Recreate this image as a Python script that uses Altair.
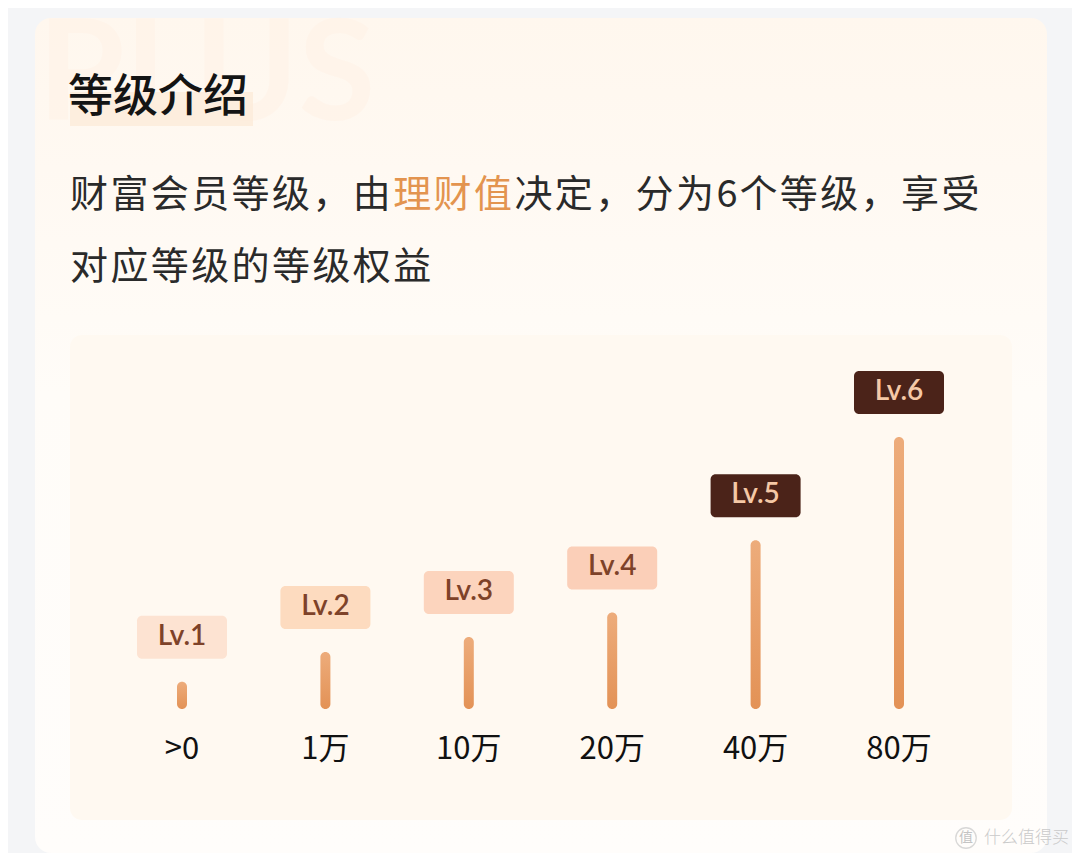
import altair as alt
import pandas as pd

# ---------------- data ----------------
levels = ["Lv.1", "Lv.2", "Lv.3", "Lv.4", "Lv.5", "Lv.6"]
thresholds = [">0", "1万", "10万", "20万", "40万", "80万"]
bar_lengths = [10, 21, 26.5, 35.5, 62, 100]          # relative bar length (Lv.6 = 100)
badge_fills = ["#FDE3D2", "#FDDBBF", "#FCD4BD", "#FBCFB8", "#4B2319", "#4B2319"]
badge_text_colors = ["#7E4229", "#7E4229", "#7E4229", "#7E4229", "#F5C8A6", "#F5C8A6"]

title_text = "等级介绍"
sub_line1 = "财富会员等级，由理财值决定，分为6个等级，享受"
sub_line2 = "对应等级的等级权益"
highlight = "理财值"

df = pd.DataFrame({
    "idx": list(range(len(levels))),
    "level": levels,
    "threshold": thresholds,
    "value": bar_lengths,
})

W, H = 1064, 845
M = 8  # page margin


def p(v):
    """page pixel -> chart pixel"""
    return v - M


FONT_CJK = "Noto Sans CJK SC"

xs = alt.Scale(domain=[0, 5], range=[p(182), p(899)], nice=False, zero=False, padding=0)
ys = alt.Scale(domain=[0, 100], range=[p(709), p(437)], nice=False, zero=True, padding=0)

one = pd.DataFrame({"a": [0]})
base1 = alt.Chart(one)

# ---------------- decorations ----------------
card = base1.mark_rect(
    cornerRadius=16,
    fill=alt.Gradient(
        gradient="linear",
        stops=[alt.GradientStop(color="#FFF7EE", offset=0),
               alt.GradientStop(color="#FFFCF8", offset=0.45),
               alt.GradientStop(color="#FFFDFB", offset=1)],
        x1=0, x2=0, y1=0, y2=1,
    ),
).encode(x=alt.value(p(35)), x2=alt.value(p(1047)), y=alt.value(p(18)), y2=alt.value(p(853)))

watermark_big = base1.mark_text(
    text="PLUS", font="Lato", fontSize=140, fontWeight="bold", align="left",
    baseline="alphabetic", color="#FFF2E6", opacity=0.55,
).encode(x=alt.value(p(38)), y=alt.value(p(120)))

title_hl = base1.mark_rect(color="#FDECDC", opacity=0.9).encode(
    x=alt.value(p(70)), x2=alt.value(p(253)), y=alt.value(p(92)), y2=alt.value(p(126)))

panel = base1.mark_rect(cornerRadius=12, color="#FFF9F1").encode(
    x=alt.value(p(70)), x2=alt.value(p(1012)), y=alt.value(p(335)), y2=alt.value(p(820)))

title = base1.mark_text(
    text=title_text, font=FONT_CJK, fontSize=45, fontWeight=500, align="left",
    baseline="middle", color="#141414",
).encode(x=alt.value(p(68)), y=alt.value(p(98)))

# subtitle, laid out character by character (the original uses letter spacing)
sub_layers = []
hl_start = sub_line1.index(highlight)
hl_end = hl_start + len(highlight)
for line, ypos in [(sub_line1, 196), (sub_line2, 268)]:
    cx = 70.0
    for i, ch in enumerate(line):
        col = "#E3944F" if (line is sub_line1 and hl_start <= i < hl_end) else "#2A2A2A"
        sub_layers.append(
            base1.mark_text(
                text=ch, font=FONT_CJK, fontSize=38, align="left", baseline="middle", color=col,
            ).encode(x=alt.value(p(cx)), y=alt.value(p(ypos)))
        )
        cx += 23.0 if ch.isdigit() else 40.4

# bottom-right watermark
wm_circle = base1.mark_point(shape="circle", size=420, filled=False, color="#C9C9C9", strokeWidth=1.3).encode(
    x=alt.value(p(966)), y=alt.value(p(838)))
wm_circle_text = base1.mark_text(text="值", font=FONT_CJK, fontSize=14, color="#C4C4C4",
                                 baseline="middle", align="center").encode(
    x=alt.value(p(966)), y=alt.value(p(838)))
wm_text = base1.mark_text(text="什么值得买", font=FONT_CJK, fontSize=17, fontWeight=300, color="#CACACA",
                          baseline="middle", align="left").encode(
    x=alt.value(p(984)), y=alt.value(p(838)))

# ---------------- data marks ----------------
base = alt.Chart(df)

bars = base.mark_bar(
    size=10, cornerRadius=5,
    color=alt.Gradient(
        gradient="linear",
        stops=[alt.GradientStop(color="#EDAC7B", offset=0),
               alt.GradientStop(color="#E39256", offset=1)],
        x1=0, x2=0, y1=0, y2=1,
    ),
).encode(
    x=alt.X("idx:Q", scale=xs, axis=None),
    y=alt.Y("value:Q", scale=ys, axis=None),
    y2=alt.datum(0),
)

badges = base.mark_rect(
    cornerRadius=5, xOffset=-45, x2Offset=45, yOffset=-66, y2Offset=-23,
).encode(
    x=alt.X("idx:Q", scale=xs, axis=None),
    x2="idx:Q",
    y=alt.Y("value:Q", scale=ys, axis=None),
    y2="value:Q",
    color=alt.Color("level:N", scale=alt.Scale(domain=levels, range=badge_fills), legend=None),
)

badge_text = base.mark_text(
    font="Lato", fontSize=28, fontWeight=600, baseline="middle", align="center", yOffset=-45,
).encode(
    x=alt.X("idx:Q", scale=xs, axis=None),
    y=alt.Y("value:Q", scale=ys, axis=None),
    text="level:N",
    fill=alt.Fill("level:N", scale=alt.Scale(domain=levels, range=badge_text_colors), legend=None),
)

cat_labels = base.mark_text(
    font=FONT_CJK, fontSize=31, baseline="middle", align="center", color="#111111",
).encode(
    x=alt.X("idx:Q", scale=xs, axis=None),
    y=alt.value(p(750)),
    text="threshold:N",
)

chart = alt.layer(
    card, watermark_big, title_hl, title, *sub_layers, panel,
    bars, badges, badge_text, cat_labels,
    wm_circle, wm_circle_text, wm_text,
).resolve_scale(color="independent", fill="independent").properties(
    width=W, height=H, padding=0, autosize=alt.AutoSizeParams(type="none"),
    background="#F4F5F7",
).configure_view(stroke=None)

chart.save("out.html", embed_options={"renderer": "svg", "actions": False})
